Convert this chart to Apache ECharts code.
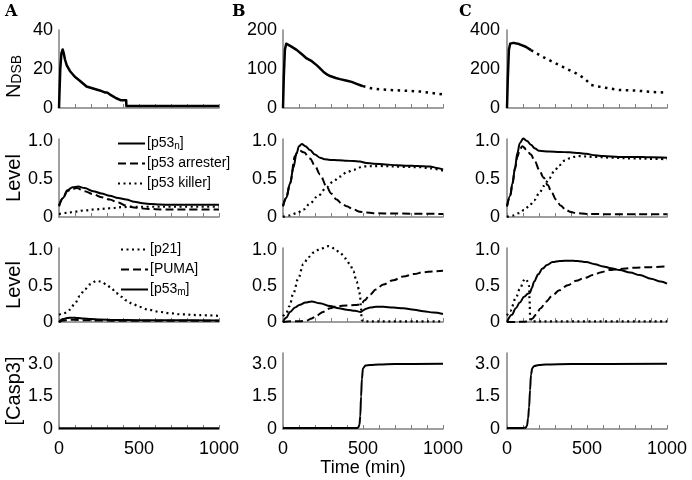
<!DOCTYPE html>
<html><head><meta charset="utf-8">
<script src="https://cdn.jsdelivr.net/npm/echarts@6/dist/echarts.min.js"></script>
<style>html,body{margin:0;padding:0;background:#fff}#c{width:692px;height:480px}</style>
</head><body><div id="c"></div>
<script>
// ---------- DATA (time in min) ----------
// Row 1: number of DSBs
const ndsbA = [[0,0],[8,20],[15,28],[23,30],[30,28],[37,25],[48,22],[68,19],[99,16],[130,14],[172,11],[213,10],[255,9],[286,8],[300,8],[317,7],[338,6],[358,5],[385,4],[420,4],[421,1],[1000,1]];
const ndsbBSolid = [[0,0],[5,80],[12,150],[20,165],[30,163],[50,158],[85,149],[120,137],[148,127],[180,120],[210,110],[230,102],[252,93],[275,86],[294,82],[330,77],[356,74],[400,70],[429,67],[460,62],[492,57],[500,56]];
const ndsbBDotted = [[500,56],[544,51],[600,48],[669,46],[730,45],[794,44],[860,42],[919,39],[1000,35]];
const ndsbCSolid = [[0,0],[5,150],[12,300],[20,330],[40,334],[75,328],[117,314],[150,297]];
const ndsbCDotted = [[150,297],[222,263],[270,243],[327,220],[380,198],[432,178],[484,152],[526,118],[560,112],[600,106],[704,92],[809,89],[914,82],[1000,79]];

// Row 2: p53 forms
const p53nA = [[0,0.15],[25,0.25],[52,0.35],[85,0.39],[120,0.4],[160,0.38],[213,0.34],[265,0.31],[317,0.28],[370,0.25],[420,0.23],[470,0.2],[524,0.18],[580,0.17],[627,0.165],[700,0.16],[800,0.16],[1000,0.16]];
const arresterA = [[0,0.14],[25,0.25],[52,0.34],[85,0.37],[110,0.38],[160,0.34],[213,0.3],[265,0.26],[317,0.23],[370,0.19],[420,0.15],[470,0.125],[503,0.115],[560,0.105],[650,0.1],[800,0.1],[1000,0.1]];
const killerA = [[0,0.04],[50,0.055],[100,0.07],[151,0.085],[230,0.1],[317,0.115],[400,0.13],[461,0.135],[550,0.135],[700,0.135],[1000,0.135]];
const p53nB = [[0,0.14],[20,0.25],[44,0.44],[65,0.65],[85,0.84],[100,0.93],[117,0.96],[140,0.93],[169,0.88],[200,0.82],[231,0.78],[260,0.76],[294,0.75],[350,0.745],[398,0.74],[440,0.735],[481,0.73],[520,0.71],[565,0.7],[640,0.69],[710,0.68],[780,0.675],[835,0.67],[919,0.665],[960,0.645],[1000,0.625]];
const arresterB = [[0,0.14],[20,0.25],[44,0.44],[75,0.8],[90,0.85],[106,0.87],[130,0.85],[169,0.77],[200,0.67],[231,0.56],[273,0.4],[300,0.31],[335,0.23],[365,0.18],[398,0.14],[440,0.1],[481,0.07],[520,0.06],[565,0.05],[700,0.045],[1000,0.04]];
const killerB = [[0,0],[40,0.02],[85,0.05],[130,0.1],[169,0.18],[220,0.28],[273,0.39],[315,0.47],[356,0.53],[400,0.59],[440,0.62],[502,0.665],[606,0.67],[752,0.66],[850,0.655],[919,0.64],[1000,0.61]];
const p53nC = [[0,0.14],[20,0.28],[34,0.44],[50,0.65],[65,0.84],[80,0.97],[101,1.03],[125,1.0],[149,0.95],[175,0.9],[201,0.87],[264,0.86],[330,0.855],[390,0.85],[450,0.84],[495,0.83],[550,0.81],[600,0.8],[700,0.79],[788,0.79],[900,0.785],[1000,0.78]];
const arresterC = [[0,0.14],[20,0.28],[34,0.44],[50,0.63],[65,0.79],[80,0.89],[96,0.93],[120,0.89],[149,0.82],[175,0.73],[201,0.62],[228,0.52],[254,0.42],[280,0.32],[306,0.23],[335,0.15],[369,0.09],[400,0.065],[432,0.05],[500,0.04],[700,0.035],[1000,0.035]];
const killerC = [[0,0],[40,0.02],[75,0.05],[105,0.09],[138,0.14],[170,0.22],[201,0.31],[232,0.41],[264,0.51],[295,0.6],[327,0.68],[360,0.74],[390,0.77],[420,0.79],[453,0.8],[537,0.79],[650,0.78],[788,0.77],[900,0.765],[1000,0.76]];

// Row 3: p21, PUMA, p53 mRNA
const p21A = [[0,0.1],[30,0.12],[68,0.17],[100,0.26],[130,0.36],[160,0.45],[193,0.52],[234,0.57],[265,0.56],[296,0.52],[330,0.46],[358,0.4],[390,0.35],[420,0.3],[460,0.25],[503,0.21],[560,0.17],[627,0.14],[700,0.12],[772,0.105],[880,0.095],[1000,0.085]];
const pumaA = [[0,0],[30,0.02],[60,0.03],[100,0.03],[150,0.025],[250,0.02],[400,0.018],[600,0.017],[1000,0.017]];
const p53mA = [[0,0],[25,0.04],[50,0.055],[80,0.06],[120,0.055],[151,0.048],[200,0.04],[255,0.033],[350,0.028],[500,0.025],[700,0.023],[1000,0.022]];
const p21B = [[0,0.08],[20,0.12],[40,0.22],[65,0.4],[95,0.6],[127,0.8],[160,0.9],[190,0.96],[230,1.01],[283,1.05],[320,1.02],[356,0.96],[390,0.88],[419,0.8],[440,0.7],[460,0.56],[475,0.45],[481,0.38],[487,0.2],[492,0.03],[500,0.01],[600,0.01],[1000,0.01]];
const pumaB = [[0,0],[50,0.01],[100,0.01],[148,0.02],[180,0.05],[210,0.09],[250,0.14],[294,0.19],[340,0.22],[398,0.23],[450,0.235],[486,0.24],[510,0.3],[544,0.38],[580,0.45],[627,0.52],[690,0.58],[752,0.63],[820,0.665],[877,0.69],[940,0.7],[1000,0.71]];
const p53mB = [[0,0],[20,0.06],[44,0.14],[75,0.2],[106,0.24],[140,0.27],[179,0.285],[230,0.26],[294,0.22],[350,0.19],[398,0.17],[450,0.155],[486,0.14],[500,0.16],[520,0.185],[544,0.2],[580,0.21],[627,0.21],[690,0.2],[752,0.19],[820,0.17],[877,0.15],[940,0.13],[1000,0.11]];
const p21C = [[0,0.09],[20,0.15],[55,0.33],[80,0.46],[107,0.58],[117,0.6],[130,0.56],[138,0.5],[141,0.3],[145,0.03],[160,0.01],[300,0.01],[1000,0.01]];
const pumaC = [[0,0],[60,0],[100,0.005],[138,0.01],[160,0.05],[180,0.1],[210,0.19],[243,0.28],[285,0.37],[327,0.44],[380,0.51],[432,0.57],[485,0.61],[537,0.65],[590,0.69],[641,0.72],[700,0.735],[788,0.75],[900,0.76],[1000,0.77]];
const p53mC = [[0,0],[30,0.1],[55,0.19],[80,0.27],[107,0.35],[130,0.39],[143,0.4],[155,0.47],[170,0.56],[195,0.66],[222,0.74],[250,0.79],[285,0.83],[330,0.845],[390,0.85],[440,0.845],[495,0.83],[550,0.8],[600,0.77],[650,0.745],[704,0.72],[770,0.685],[830,0.65],[900,0.6],[960,0.56],[1000,0.53]];

// Row 4: caspase-3
const casp3A = [[0,0.03],[500,0.03],[1000,0.03]];
const casp3B = [[0,0.05],[300,0.05],[460,0.05],[471,0.07],[478,0.2],[483,0.6],[488,1.5],[493,2.3],[500,2.8],[515,2.92],[544,2.95],[600,2.97],[700,2.99],[1000,3.0]];
const casp3C = [[0,0.05],[100,0.05],[117,0.06],[125,0.15],[132,0.5],[138,1.0],[144,1.8],[150,2.5],[158,2.8],[170,2.9],[200,2.95],[243,2.97],[400,2.99],[1000,3.0]];

// Axis ticks / labels
const xTicks = [0, 500, 1000];
const row1Max = [40, 200, 400];
const row1Step = [20, 100, 200];
const levelTicks = [0, 0.5, 1.0];
const caspTicks = [0, 1.5, 3.0];
const panelLetters = ['A', 'B', 'C'];
const rowNames = ['{n|N}{s|DSB}', 'Level', 'Level', '[Casp3]'];
const legendP53 = ['[p53n]', '[p53 arrester]', '[p53 killer]'];
const legendTargets = ['[p21]', '[PUMA]', '[p53m]'];

// ---------- LAYOUT ----------
const colLeft = [59, 283, 507];
const colWidth = 160;
const colYOffset = [2, 2, 3];
const rowTop = [30, 139, 248, 353];
const rowHeight = [78, 78, 74, 76];
const rowXOffset = [1, 0, 2, 2];
const AX = '#808080';
const FONT = 'Liberation Sans, Arial, sans-serif';

const grids = [], xAxes = [], yAxes = [];
function fmtTick(list, dec) {
  return function (v) {
    for (const t of list) if (Math.abs(v - t) < 1e-6) return t === 0 ? '0' : t.toFixed(dec);
    return '';
  };
}
for (let r = 0; r < 4; r++) {
  for (let c = 0; c < 3; c++) {
    const g = r * 3 + c;
    grids.push({ left: colLeft[c], top: rowTop[r], width: colWidth, height: rowHeight[r], containLabel: false });
    const xa = {
      type: 'value', gridIndex: g, min: 0, max: 1000, interval: 100, offset: rowXOffset[r],
      axisLine: { lineStyle: { color: AX, width: 1.5 } },
      axisTick: { inside: true, length: 4, lineStyle: { color: AX, width: 1 } },
      splitLine: { show: false },
      axisLabel: { show: r === 3, margin: 9, color: '#000', fontSize: 18, fontFamily: FONT,
        formatter: v => (xTicks.indexOf(v) >= 0 ? String(v) : ''), showMinLabel: true, showMaxLabel: true }
    };
    if (r === 3 && c === 1) {
      xa.name = 'Time (min)'; xa.nameLocation = 'middle'; xa.nameGap = 22;
      xa.nameTextStyle = { color: '#000', fontSize: 18, fontFamily: FONT, verticalAlign: 'top' };
    }
    xAxes.push(xa);
    let ya;
    const common = {
      type: 'value', gridIndex: g, offset: colYOffset[c],
      axisLine: { show: true, lineStyle: { color: AX, width: 1.5 } },
      axisTick: { show: false }, splitLine: { show: false }
    };
    const lbl = { color: '#000', fontSize: 18, fontFamily: FONT, margin: 4 };
    if (r === 0) {
      ya = Object.assign({}, common, { min: 0, max: row1Max[c], interval: row1Step[c], axisLabel: lbl });
    } else if (r === 3) {
      ya = Object.assign({}, common, { min: 0, max: 3.5, interval: 0.5, axisLabel: Object.assign({ formatter: fmtTick(caspTicks, 1) }, lbl) });
    } else {
      ya = Object.assign({}, common, { min: 0, max: 1.025, interval: 0.025, axisLabel: Object.assign({ formatter: fmtTick(levelTicks, 1) }, lbl) });
    }
    if (c === 0) {
      ya.name = rowNames[r]; ya.nameLocation = 'middle'; ya.nameRotate = 90; ya.nameGap = r === 0 ? 22 : 23;
      ya.nameTextStyle = { color: '#000', fontSize: 20, fontFamily: FONT,
        padding: r === 0 ? [0, 15, 0, 0] : 0,
        rich: {
          n: { fontSize: 20, lineHeight: 20, fontFamily: FONT, color: '#000', verticalAlign: 'top', padding: [0, 0, 5, 0] },
          s: { fontSize: 14, lineHeight: 14, fontFamily: FONT, color: '#000', verticalAlign: 'bottom' }
        } };
    }
    yAxes.push(ya);
  }
}

const SOLID = { type: 'solid', width: 2 };
const DASH = { type: [8, 4], width: 2 };
const DOT = { type: [2, 3.5], width: 2.2 };
function line(name, g, data, ls, smooth) {
  return { type: 'line', name: name, xAxisIndex: g, yAxisIndex: g, data: data, symbol: 'none',
    smooth: smooth === false ? false : 0.35, smoothMonotone: 'x', clip: false, silent: true,
    lineStyle: Object.assign({ color: '#000', cap: 'butt', join: 'round' }, ls), itemStyle: { color: '#000' } };
}
const NDSB = { type: 'solid', width: 2.5 };
const NDSBDOT = { type: [2.5, 4.5], width: 2.5 };
const series = [
  line('NDSB A', 0, ndsbA, NDSB, false),
  line('NDSB B', 1, ndsbBSolid, NDSB, false),
  line('NDSB B post', 1, ndsbBDotted, NDSBDOT, false),
  line('NDSB C', 2, ndsbCSolid, NDSB, false),
  line('NDSB C post', 2, ndsbCDotted, NDSBDOT, false),
  line(legendP53[0], 3, p53nA, SOLID), line(legendP53[1], 3, arresterA, DASH), line(legendP53[2], 3, killerA, DOT),
  line(legendP53[0], 4, p53nB, SOLID), line(legendP53[1], 4, arresterB, DASH), line(legendP53[2], 4, killerB, DOT),
  line(legendP53[0], 5, p53nC, SOLID), line(legendP53[1], 5, arresterC, DASH), line(legendP53[2], 5, killerC, DOT),
  line(legendTargets[0], 6, p21A, DOT), line(legendTargets[1], 6, pumaA, DASH), line(legendTargets[2], 6, p53mA, SOLID),
  line(legendTargets[0], 7, p21B, DOT), line(legendTargets[1], 7, pumaB, DASH), line(legendTargets[2], 7, p53mB, SOLID),
  line(legendTargets[0], 8, p21C, DOT), line(legendTargets[1], 8, pumaC, DASH), line(legendTargets[2], 8, p53mC, SOLID),
  line('Casp3 A', 9, casp3A, SOLID), line('Casp3 B', 10, casp3B, SOLID), line('Casp3 C', 11, casp3C, SOLID)
];

const legendRich = { sub: { fontSize: 10, fontFamily: FONT, color: '#000', verticalAlign: 'bottom', padding: [6, 0, 0, 0] } };
function legendFmt(n) {
  if (n === '[p53n]') return '[p53{sub|n}]';
  if (n === '[p53m]') return '[p53{sub|m}]';
  return n;
}
const legendBase = {
  orient: 'vertical', itemWidth: 27, itemHeight: 12, itemGap: 5, padding: 0,
  selectedMode: false,
  itemStyle: { opacity: 0, borderWidth: 0 },
  lineStyle: { color: '#000' },
  textStyle: { color: '#000', fontSize: 14, fontFamily: FONT, lineHeight: 15, padding: [0, 0, 0, -3], rich: legendRich },
  formatter: legendFmt
};

const option = {
  animation: false,
  backgroundColor: '#fff',
  title: panelLetters.map((t, i) => ({ text: t, left: [5, 232, 459][i], top: 4, padding: 0,
    textStyle: { fontFamily: 'DejaVu Serif, Liberation Serif, serif', fontWeight: 'bold', fontSize: 16, color: '#000' } })),
  grid: grids, xAxis: xAxes, yAxis: yAxes,
  legend: [
    Object.assign({}, legendBase, { data: legendP53, left: 117, top: 136 }),
    Object.assign({}, legendBase, { data: legendTargets, left: 120, top: 242 })
  ],
  series: series
};
const chart = echarts.init(document.getElementById('c'), null, { renderer: 'canvas' });
chart.setOption(option);
</script></body></html>
